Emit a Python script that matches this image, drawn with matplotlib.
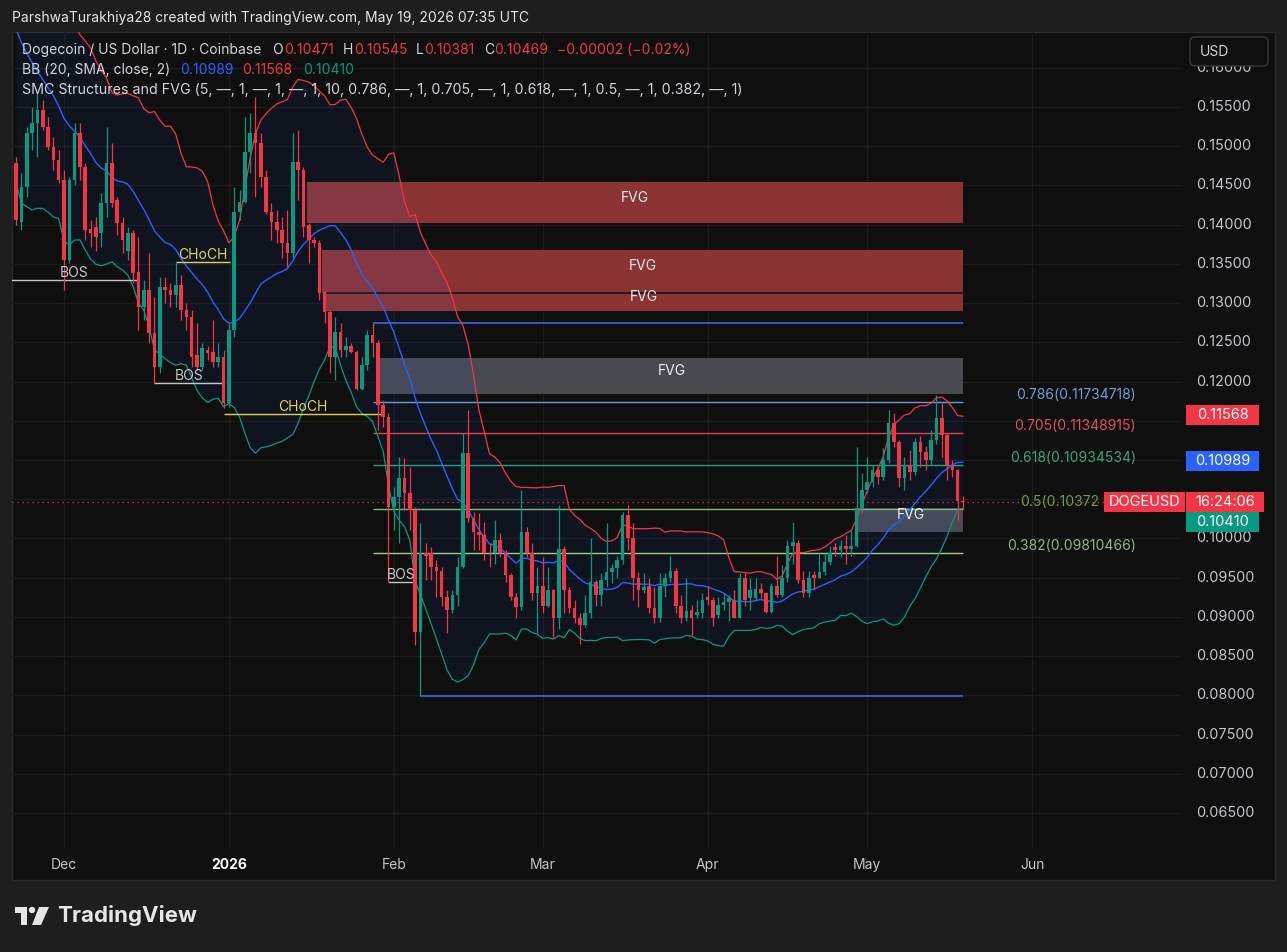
import numpy as np
import pandas as pd
import matplotlib
matplotlib.use('Agg')
import matplotlib.pyplot as plt
import matplotlib.dates as mdates
from matplotlib.patches import Rectangle, FancyBboxPatch, Polygon, Circle
from matplotlib.transforms import IdentityTransform, blended_transform_factory

plt.rcParams['font.family'] = ['Inter', 'DejaVu Sans']

# ---------------- data ----------------
start_date = '2025-11-22'
# closes before the first visible candle (needed only for the Bollinger window)
pre_close = [0.1780, 0.1800, 0.1755, 0.1765, 0.1740, 0.1705, 0.1690, 0.1720, 0.1670, 0.1645,
             0.1660, 0.1625, 0.1605, 0.1590, 0.1615, 0.1570, 0.1555, 0.1580, 0.1500]

opens = [0.1479, 0.1403, 0.1448, 0.1517, 0.1530, 0.1546, 0.1524, 0.1499, 0.1482, 0.1457,
         0.1355, 0.1457, 0.1517, 0.1474, 0.1394, 0.1397, 0.1389, 0.1428, 0.1479, 0.1431,
         0.1402, 0.1367, 0.1389, 0.1340, 0.1295, 0.1317, 0.1262, 0.1219, 0.1320, 0.1317,
         0.1310, 0.1323, 0.1291, 0.1282, 0.1234, 0.1219, 0.1240, 0.1238, 0.1225, 0.1231,
         0.1173, 0.1266, 0.1416, 0.1429, 0.1493, 0.1517, 0.1504, 0.1461, 0.1416, 0.1403,
         0.1393, 0.1376, 0.1364, 0.1480, 0.1470, 0.1400, 0.1380, 0.1376, 0.1314, 0.1289,
         0.1231, 0.1263, 0.1240, 0.1245, 0.1238, 0.1191, 0.1221, 0.1259, 0.1249, 0.1170,
         0.1155, 0.1040, 0.1053, 0.1077, 0.1058, 0.1036, 0.0881, 0.0982, 0.0981, 0.0963,
         0.0959, 0.0925, 0.0909, 0.0928, 0.0963, 0.1109, 0.1026, 0.1008, 0.1004, 0.0982,
         0.0981, 0.0998, 0.0982, 0.0954, 0.0925, 0.0912, 0.1008, 0.0981, 0.0931, 0.0940,
         0.0914, 0.0934, 0.0898, 0.0987, 0.0934, 0.0911, 0.0898, 0.0890, 0.0905, 0.0945,
         0.0928, 0.0947, 0.0957, 0.0962, 0.0972, 0.1030, 0.1001, 0.0950, 0.0934, 0.0940,
         0.0911, 0.0898, 0.0940, 0.0949, 0.0959, 0.0914, 0.0898, 0.0909, 0.0902, 0.0905,
         0.0925, 0.0922, 0.0902, 0.0915, 0.0919, 0.0922, 0.0899, 0.0949, 0.0924, 0.0924,
         0.0936, 0.0930, 0.0906, 0.0940, 0.0928, 0.0949, 0.0991, 0.0994, 0.0947, 0.0930,
         0.0954, 0.0949, 0.0957, 0.0970, 0.0989, 0.0985, 0.0991, 0.0987, 0.0991, 0.1039,
         0.1062, 0.1072, 0.1087, 0.1078, 0.1100, 0.1147, 0.1123, 0.1077, 0.1094, 0.1085,
         0.1123, 0.1110, 0.1100, 0.1125, 0.1153, 0.1132, 0.1094, 0.1087, 0.10471]

highs = [0.1486, 0.1466, 0.1524, 0.1550, 0.1568, 0.1559, 0.1537, 0.1512, 0.1495, 0.1470,
         0.1461, 0.1530, 0.1530, 0.1479, 0.1406, 0.1410, 0.1440, 0.1524, 0.1504, 0.1435,
         0.1410, 0.1397, 0.1393, 0.1384, 0.1329, 0.1364, 0.1308, 0.1333, 0.1333, 0.1326,
         0.1352, 0.1336, 0.1300, 0.1291, 0.1275, 0.1249, 0.1245, 0.1279, 0.1249, 0.1240,
         0.1275, 0.1448, 0.1444, 0.1537, 0.1542, 0.1563, 0.1517, 0.1470, 0.1428, 0.1419,
         0.1410, 0.1419, 0.1517, 0.1521, 0.1474, 0.1402, 0.1384, 0.1380, 0.1317, 0.1291,
         0.1282, 0.1275, 0.1257, 0.1249, 0.1240, 0.1231, 0.1266, 0.12751, 0.1253, 0.1177,
         0.1160, 0.1066, 0.1104, 0.1102, 0.1091, 0.1040, 0.1020, 0.0994, 0.0989, 0.0972,
         0.0963, 0.0934, 0.0934, 0.0976, 0.1135, 0.1164, 0.1034, 0.1033, 0.1021, 0.0994,
         0.1024, 0.1007, 0.0985, 0.0956, 0.0930, 0.1062, 0.1014, 0.0994, 0.0963, 0.0976,
         0.0963, 0.0936, 0.1043, 0.0991, 0.0938, 0.0922, 0.0905, 0.0928, 0.1001, 0.0947,
         0.0956, 0.1020, 0.0968, 0.0978, 0.1034, 0.1043, 0.1020, 0.0957, 0.0956, 0.0949,
         0.0938, 0.0956, 0.0956, 0.0978, 0.0962, 0.0928, 0.0950, 0.0915, 0.0922, 0.0931,
         0.0940, 0.0925, 0.0925, 0.0930, 0.0928, 0.0934, 0.0956, 0.0956, 0.0949, 0.0950,
         0.0943, 0.0931, 0.0943, 0.0978, 0.0966, 0.0998, 0.1021, 0.0998, 0.0959, 0.0959,
         0.0959, 0.0982, 0.0982, 0.0991, 0.0994, 0.0998, 0.1004, 0.1011, 0.1117, 0.1083,
         0.1104, 0.1093, 0.1091, 0.1115, 0.1164, 0.1160, 0.1125, 0.1104, 0.1113, 0.1128,
         0.1130, 0.1118, 0.1138, 0.1183, 0.1173, 0.1135, 0.1100, 0.1089, 0.10545]

lows = [0.1400, 0.1393, 0.1435, 0.1495, 0.1486, 0.1521, 0.1495, 0.1470, 0.1453, 0.1317,
        0.1351, 0.1451, 0.1457, 0.1380, 0.1372, 0.1367, 0.1372, 0.1410, 0.1423, 0.1387,
        0.1364, 0.1355, 0.1326, 0.1266, 0.1279, 0.1249, 0.1198, 0.1211, 0.1300, 0.1295,
        0.1295, 0.1279, 0.1266, 0.1219, 0.1215, 0.1215, 0.1228, 0.1219, 0.1219, 0.1166,
        0.1167, 0.1257, 0.1406, 0.1427, 0.1466, 0.1435, 0.1448, 0.1414, 0.1380, 0.1376,
        0.1358, 0.1346, 0.1358, 0.1431, 0.1384, 0.1351, 0.1372, 0.1304, 0.1275, 0.1211,
        0.1202, 0.1231, 0.1231, 0.1237, 0.1189, 0.1189, 0.1215, 0.1231, 0.1138, 0.1142,
        0.0945, 0.1011, 0.0994, 0.1036, 0.1011, 0.0864, 0.07993, 0.0947, 0.0947, 0.0925,
        0.0914, 0.0880, 0.0905, 0.0914, 0.0962, 0.1021, 0.0985, 0.0985, 0.0972, 0.0963,
        0.0968, 0.0976, 0.0945, 0.0922, 0.0899, 0.0909, 0.0976, 0.0922, 0.0880, 0.0905,
        0.0912, 0.0873, 0.0884, 0.0905, 0.0905, 0.0892, 0.0866, 0.0887, 0.0899, 0.0914,
        0.0914, 0.0938, 0.0943, 0.0950, 0.0968, 0.0985, 0.0922, 0.0912, 0.0930, 0.0905,
        0.0892, 0.0893, 0.0925, 0.0945, 0.0905, 0.0892, 0.0895, 0.0877, 0.0899, 0.0899,
        0.0915, 0.0889, 0.0898, 0.0909, 0.0895, 0.0898, 0.0898, 0.0914, 0.0909, 0.0922,
        0.0924, 0.0905, 0.0905, 0.0925, 0.0925, 0.0945, 0.0968, 0.0943, 0.0925, 0.0925,
        0.0934, 0.0949, 0.0954, 0.0966, 0.0978, 0.0976, 0.0968, 0.0978, 0.0989, 0.1033,
        0.1058, 0.1066, 0.1070, 0.1075, 0.1096, 0.1117, 0.1066, 0.1062, 0.1075, 0.1081,
        0.1091, 0.1087, 0.1094, 0.1121, 0.1104, 0.1075, 0.1078, 0.1024, 0.10381]

closes = [0.1406, 0.1448, 0.1517, 0.1530, 0.1546, 0.1524, 0.1499, 0.1482, 0.1457, 0.1355,
          0.1457, 0.1517, 0.1474, 0.1393, 0.1390, 0.1384, 0.1428, 0.1479, 0.1428, 0.1402,
          0.1380, 0.1389, 0.1338, 0.1295, 0.1317, 0.1262, 0.1219, 0.1320, 0.1317, 0.1310,
          0.1323, 0.1291, 0.1282, 0.1231, 0.1219, 0.1243, 0.1237, 0.1225, 0.1231, 0.1173,
          0.1266, 0.1416, 0.1429, 0.1493, 0.1517, 0.1504, 0.1461, 0.1416, 0.1403, 0.1393,
          0.1376, 0.1364, 0.1480, 0.1470, 0.1397, 0.1380, 0.1376, 0.1313, 0.1289, 0.1231,
          0.1263, 0.1240, 0.1245, 0.1238, 0.1191, 0.1221, 0.1259, 0.1249, 0.1170, 0.1155,
          0.1040, 0.1053, 0.1077, 0.1058, 0.1036, 0.0881, 0.0981, 0.0978, 0.0963, 0.0959,
          0.0925, 0.0909, 0.0928, 0.0963, 0.1109, 0.1026, 0.1008, 0.1004, 0.0982, 0.0981,
          0.0998, 0.0982, 0.0954, 0.0925, 0.0912, 0.1008, 0.0981, 0.0931, 0.0940, 0.0914,
          0.0934, 0.0898, 0.0987, 0.0934, 0.0911, 0.0898, 0.0890, 0.0905, 0.0945, 0.0928,
          0.0947, 0.0957, 0.0962, 0.0972, 0.1030, 0.1001, 0.0950, 0.0934, 0.0938, 0.0911,
          0.0898, 0.0940, 0.0949, 0.0959, 0.0914, 0.0898, 0.0907, 0.0899, 0.0906, 0.0922,
          0.0922, 0.0899, 0.0915, 0.0919, 0.0924, 0.0899, 0.0949, 0.0922, 0.0934, 0.0936,
          0.0930, 0.0906, 0.0940, 0.0928, 0.0949, 0.0991, 0.0995, 0.0947, 0.0930, 0.0950,
          0.0949, 0.0957, 0.0970, 0.0982, 0.0985, 0.0991, 0.0987, 0.0991, 0.1039, 0.1062,
          0.1072, 0.1087, 0.1078, 0.1100, 0.1147, 0.1123, 0.1077, 0.1094, 0.1085, 0.1123,
          0.1110, 0.1100, 0.1125, 0.1153, 0.1132, 0.1094, 0.1087, 0.10471, 0.10469]

price_ticks = [0.065, 0.070, 0.075, 0.080, 0.085, 0.090, 0.095, 0.100, 0.105, 0.110,
               0.115, 0.120, 0.125, 0.130, 0.135, 0.140, 0.145, 0.150, 0.155, 0.160]
month_ticks = ['2025-12-01', '2026-01-01', '2026-02-01', '2026-03-01', '2026-04-01', '2026-05-01', '2026-06-01']
month_labels = ['Dec', '2026', 'Feb', 'Mar', 'Apr', 'May', 'Jun']

# SMC structure annotations (candle index positions)
struct_labels = ['BOS', 'CHoCH', 'BOS', 'CHoCH', 'BOS']
struct_prices = [0.1329, 0.1352, 0.1198, 0.1159, 0.0945]
struct_start = [-1.0, 30.0, 26.0, 39.0, 70.0]
struct_end = [22.7, 40.2, 38.9, 68.8, 74.6]

# fair value gaps
fvg_top = [0.1454, 0.1368, 0.1313, 0.1230, 0.1039]
fvg_bottom = [0.1402, 0.1313, 0.1290, 0.1184, 0.1008]
fvg_start = [54.7, 57.5, 58.1, 68.4, 158.3]
fvg_end = [178.0, 178.0, 178.0, 178.0, 178.0]
fvg_kind = ['bear', 'bear', 'bear', 'neutral', 'neutral']

# fibonacci retracement
swing_high, swing_high_idx = 0.12751, 67
swing_low, swing_low_idx = 0.07993, 76
fib_ratios = ['0.786', '0.705', '0.618', '0.5', '0.382']
fib_prices = [0.11734718, 0.11348915, 0.10934534, 0.103725, 0.09810466]
fib_texts = ['0.786(0.11734718)', '0.705(0.11348915)', '0.618(0.10934534)', '0.5(0.10372',
             '0.382(0.09810466)']

last_price = 0.10469
bb_values = [0.10989, 0.11568, 0.10410]   # basis, upper, lower (legend)

# ---------------- style ----------------
GREEN = '#089981'
RED = '#f23645'
BLUE = '#2962ff'
TXT = '#d1d4dc'

W, H = 1287, 952
fig = plt.figure(figsize=(W / 100, H / 100), dpi=100, facecolor='#1e1e1e')
PX = IdentityTransform()


def P(y):
    return H - y


fig.add_artist(Rectangle((12, P(880)), 1263, 848, transform=PX, fc='#0f0f0f',
                         ec='#2a2a2a', lw=1, zorder=-10))

ax = fig.add_axes([12 / W, 1 - 848 / H, 1168 / W, 816 / H])
ax.set_facecolor('none')
for s in ax.spines.values():
    s.set_visible(False)

n = len(closes)
dates = pd.date_range(start_date, periods=n, freq='D')
xs = mdates.date2num(dates)
x0 = xs[0]

ax.set_xlim(x0 - 0.776, x0 + 218.8)
ax.set_ylim(0.060538, 0.164561)

# grid
mt = mdates.date2num(pd.to_datetime(month_ticks))
ax.set_xticks(mt)
ax.set_yticks(price_ticks)
ax.tick_params(length=0, labelbottom=False, labelleft=False)
ax.grid(True, color='#1c1c1c', lw=1)
ax.set_axisbelow(True)

# Bollinger bands from closes
full = pd.Series(pre_close + closes)
mid = full.rolling(20).mean().values[-n:]
sd = full.rolling(20).std(ddof=0).values[-n:]
upper = mid + 2 * sd
lower = mid - 2 * sd
ax.fill_between(xs, lower, upper, color=BLUE, alpha=0.07, lw=0, zorder=1)
ax.plot(xs, upper, color=RED, lw=0.9, zorder=2.5)
ax.plot(xs, mid, color=BLUE, lw=1.0, zorder=2.5)
ax.plot(xs, lower, color=GREEN, lw=0.9, zorder=2.5)

# FVG boxes
for t, b, s0, e0, k in zip(fvg_top, fvg_bottom, fvg_start, fvg_end, fvg_kind):
    fc = '#8c3434' if k == 'bear' else '#53555b'
    al = 1.0 if k == 'bear' else 0.85
    ax.add_patch(Rectangle((x0 + s0, b), e0 - s0, t - b, fc=fc, ec='none', alpha=al, zorder=0.8))
    ax.annotate('FVG', (x0 + (s0 + e0) / 2, (t + b) / 2), xytext=(0, 5), textcoords='offset pixels',
                ha='center', va='center', color='#f0f0f0', fontsize=10, zorder=6)
# separator between stacked FVGs
ax.hlines(fvg_bottom[1], x0 + fvg_start[2], x0 + fvg_end[2], color='#151515', lw=1.2, zorder=0.9)

# swing high / low lines
ax.hlines(swing_high, x0 + swing_high_idx, x0 + 178, color='#3a66e0', lw=1.2, zorder=2)
ax.hlines(swing_low, x0 + swing_low_idx, x0 + 178, color='#3a66e0', lw=1.2, zorder=2)

# fib levels
fib_line_cols = ['#6b9bd8', '#e0434f', '#2a9d84', '#7db87a', '#9ccc8a']
fib_txt_cols = ['#6f9fd8', '#e0505a', '#3aa57a', '#6f9a50', '#8fb87a']
for r, p, txt, lc, tc in zip(fib_ratios, fib_prices, fib_texts, fib_line_cols, fib_txt_cols):
    ax.hlines(p, x0 + swing_high_idx, x0 + 178, color=lc, lw=1.0, zorder=2)
    if txt.endswith(')'):
        ax.annotate(txt, (x0 + 210.5, p), xytext=(0, 7), textcoords='offset pixels',
                    ha='right', va='center', color=tc, fontsize=10, zorder=6)
    else:  # partly hidden behind the symbol tag in the original
        ax.annotate(txt, (x0 + 188.7, p), xytext=(0, 7), textcoords='offset pixels',
                    ha='left', va='center', color=tc, fontsize=10, zorder=6)

# structure lines
for lab, p, s0, e0 in zip(struct_labels, struct_prices, struct_start, struct_end):
    col = '#e3d25a' if lab == 'CHoCH' else '#c3c6cc'
    ax.hlines(p, x0 + s0, x0 + e0, color=col, lw=1.0, zorder=2.8)
    ax.text(x0 + (s0 + e0) / 2, p, lab, ha='center', va='bottom', color=col, fontsize=10, zorder=6)

# current price dotted line
ax.axhline(last_price, color=RED, lw=0.9, ls=(0, (1, 3)), zorder=2.6)

# candles
o = np.array(opens); c = np.array(closes)
hi = np.maximum(np.array(highs), np.maximum(o, c))
lo = np.minimum(np.array(lows), np.minimum(o, c))
cols = np.where(c >= o, GREEN, RED)
ax.vlines(xs, lo, hi, colors=cols, lw=0.9, zorder=3)
body_b = np.minimum(o, c)
body_h = np.maximum(np.abs(c - o), 0.00009)
ax.bar(xs, body_h, bottom=body_b, width=0.68, color=cols, lw=0, zorder=4)

fig.canvas.draw()


def price_to_px(p):
    return H - ax.transData.transform((x0, p))[1]


ycur = price_to_px(last_price)
tag_rows = [(1186, 1259, price_to_px(bb_values[1]), '0.11568', RED),
            (1186, 1259, price_to_px(bb_values[0]), '0.10989', BLUE),
            (1104, 1185, ycur, 'DOGEUSD', RED),
            (1186, 1264, ycur, '16:24:06', RED),
            (1186, 1259, ycur + 20, '0.10410', GREEN)]
tag_y = [r[2] for r in tag_rows if r[0] >= 1186]

# price axis labels (those hidden under a price tag are not drawn)
trans_py = blended_transform_factory(ax.transAxes, ax.transData)
for p in price_ticks:
    yp = price_to_px(p)
    if any(abs(yp - ty) < 15 for ty in tag_y):
        continue
    ax.text((1196 - 12) / 1168, p, f'{p:.5f}', transform=trans_py, ha='left', va='center',
            color='#c2c5cc', fontsize=10.4, clip_on=False)

# time axis labels
trans_tx = blended_transform_factory(ax.transData, ax.transAxes)
for d, lab in zip(mt, month_labels):
    ax.text(d, -17 / 816, lab, transform=trans_tx, ha='center', va='center',
            color='#ffffff' if lab == '2026' else '#c2c5cc', fontsize=10,
            fontweight='bold' if lab == '2026' else 'normal', clip_on=False)


def tag(x1, x2, yc, text, fc):
    fig.add_artist(Rectangle((x1, P(yc + 10)), x2 - x1, 20, transform=PX, fc=fc, ec='none', zorder=5))
    fig.text(((x1 + x2) / 2) / W, 1 - yc / H, text, ha='center', va='center', color='white',
             fontsize=10.5, zorder=6)


for row in tag_rows:
    tag(*row)

# USD button
fig.add_artist(FancyBboxPatch((1190, P(66)), 78, 29, boxstyle='round,pad=0,rounding_size=5',
                              transform=PX, fc='#0f0f0f', ec='#3a3a3a', lw=1, zorder=5))
fig.text(1200 / W, 1 - 52 / H, 'USD', ha='left', va='center', color=TXT, fontsize=10, zorder=6)

# header & legend
fig.text(12 / W, 1 - 18 / H, 'ParshwaTurakhiya28 created with TradingView.com, May 19, 2026 07:35 UTC',
         ha='left', va='center', color='#e6e6e6', fontsize=10)


def seg(x, y, s, col, fs=10):
    fig.text(x / W, 1 - y / H, s, ha='left', va='center', color=col, fontsize=fs, zorder=6)


seg(22, 50, 'Dogecoin / US Dollar · 1D · Coinbase', TXT)
seg(272, 50, 'O', TXT); seg(284, 50, '0.10471', RED)
seg(343, 50, 'H', TXT); seg(354, 50, '0.10545', RED)
seg(416, 50, 'L', TXT); seg(424, 50, '0.10381', RED)
seg(484, 50, 'C', TXT); seg(494, 50, '0.10469', RED)
seg(557, 50, '−0.00002 (−0.02%)', RED)
seg(22, 70, 'BB (20, SMA, close, 2)', TXT)
seg(180, 70, '0.10989', BLUE); seg(242, 70, '0.11568', RED); seg(303, 70, '0.10410', GREEN)
seg(22, 90, 'SMC Structures and FVG (5, —, 1, —, 1, —, 1, 10, 0.786, —, 1, 0.705, —, 1, 0.618, —, 1, '
        '0.5, —, 1, 0.382, —, 1)', TXT, 10.25)

# TradingView logo
fig.add_artist(Polygon([(15, P(907)), (27, P(907)), (27, P(925)), (21, P(925)), (21, P(913)), (15, P(913))],
                       closed=True, transform=PX, fc='#e6e6e6', ec='none'))
fig.add_artist(Circle((32, P(910)), 3.2, transform=PX, fc='#e6e6e6', ec='none'))
fig.add_artist(Polygon([(39, P(907)), (49, P(907)), (41, P(925)), (32, P(925))],
                       closed=True, transform=PX, fc='#e6e6e6', ec='none'))
fig.text(57 / W, 1 - 916 / H, 'TradingView', ha='left', va='center', color='#e6e6e6',
         fontsize=16, fontweight='bold')

fig.savefig('out.png', dpi=100, facecolor=fig.get_facecolor())
